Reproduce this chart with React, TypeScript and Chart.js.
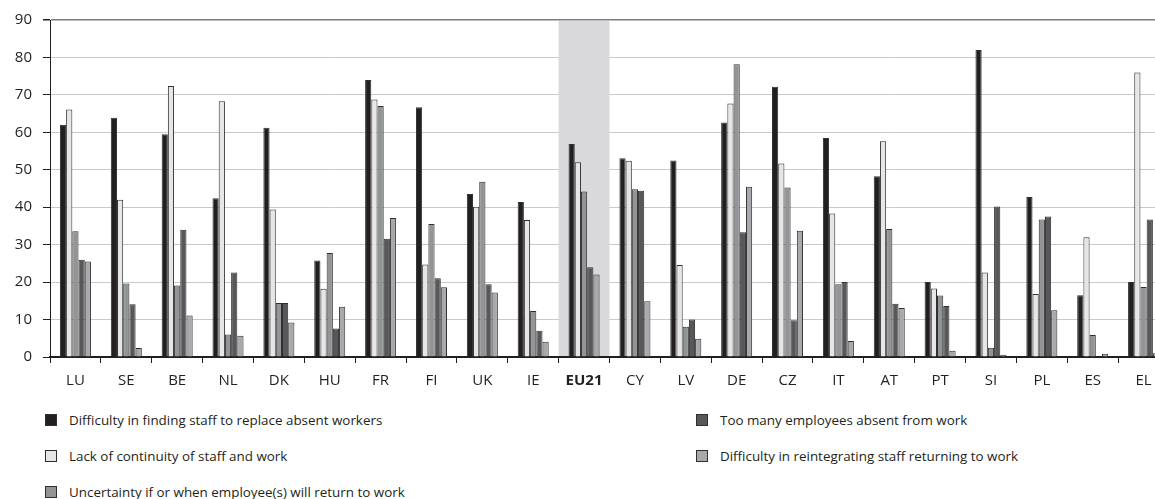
import React, { useEffect, useRef } from "react";
import { Chart, registerables } from "chart.js";

Chart.register(...registerables);

const categories = ["LU", "SE", "BE", "NL", "DK", "HU", "FR", "FI", "UK", "IE", "EU21", "CY", "LV", "DE", "CZ", "IT", "AT", "PT", "SI", "PL", "ES", "EL"];
const highlightIndex = 10;

const difficultyReplace = [62, 63.9, 59.5, 42.4, 61.2, 25.8, 74, 66.7, 43.5, 41.4, 56.9, 53.1, 52.5, 62.6, 72.2, 58.5, 48.3, 20, 82, 42.7, 16.5, 20];
const lackContinuity = [66.1, 42, 72.4, 68.3, 39.4, 18.2, 68.8, 24.7, 40.1, 36.6, 52, 52.4, 24.6, 67.7, 51.7, 38.3, 57.6, 18.3, 22.6, 16.8, 32, 76];
const uncertaintyReturn = [33.6, 19.6, 19.1, 6, 14.4, 27.8, 67, 35.5, 46.8, 12.3, 44.2, 44.8, 8.1, 78.2, 45.3, 19.4, 34.2, 16.4, 2.5, 36.7, 5.9, 18.7];
const tooManyAbsent = [26, 14.1, 34, 22.6, 14.4, 7.6, 31.6, 21, 19.4, 7, 24, 44.4, 10, 33.3, 9.8, 20, 14.2, 13.6, 40.2, 37.5, 0, 36.7];
const reintegrating = [25.5, 2.4, 11.1, 5.7, 9.2, 13.4, 37.1, 18.6, 17.2, 4.1, 22, 14.9, 4.9, 45.5, 33.7, 4.3, 13.1, 1.7, 0.6, 12.5, 0.9, 1];

const seriesLabels = [
  "Difficulty in finding staff to replace absent workers",
  "Lack of continuity of staff and work",
  "Uncertainty if or when employee(s) will return to work",
  "Too many employees absent from work",
  "Difficulty in reintegrating staff returning to work",
];
const seriesColors = ["#231f20", "#e6e6e7", "#929497", "#58585a", "#a7a9ac"];
const seriesData = [difficultyReplace, lackContinuity, uncertaintyReturn, tooManyAbsent, reintegrating];

const FONT = "'Open Sans', 'Noto Sans', sans-serif";
const TEXT = "#231f20";

const highlightPlugin = {
  id: "highlightBand",
  beforeDatasetsDraw(chart: any) {
    const { ctx, chartArea, scales } = chart;
    const x = scales.x;
    const w = (chartArea.right - chartArea.left) / categories.length;
    const cx = x.getPixelForValue(highlightIndex);
    ctx.save();
    ctx.fillStyle = "#d9d9db";
    ctx.fillRect(cx - w / 2, chartArea.top + 1, w, chartArea.bottom - chartArea.top - 2);
    ctx.restore();
  },
};

export default function App() {
  const ref = useRef<HTMLCanvasElement | null>(null);
  useEffect(() => {
    if (!ref.current) return;
    const chart = new Chart(ref.current, {
      type: "bar",
      data: {
        labels: categories,
        datasets: seriesData.map((d, i) => ({
          label: seriesLabels[i],
          data: d,
          backgroundColor: seriesColors[i],
          borderColor: "#2f2f2f",
          borderWidth: 1,
          borderSkipped: "bottom",
          categoryPercentage: 0.61,
          barPercentage: 1.0,
        })),
      },
      options: {
        responsive: false,
        animation: false,
        layout: { padding: { top: 20, right: 3, left: 0, bottom: 0 } },
        plugins: { legend: { display: false }, tooltip: { enabled: false } },
        scales: {
          x: {
            afterFit: (s: any) => {
              s.height = 43;
            },
            grid: {
              offset: true,
              drawOnChartArea: false,
              drawTicks: true,
              tickLength: 6,
              tickColor: "#231f20",
            },
            border: { color: "#231f20", width: 2 },
            ticks: {
              color: TEXT,
              padding: 9,
              font: (c: any) => ({
                family: FONT,
                size: 15,
                weight: c.index === highlightIndex ? "bold" : "normal",
              }),
            },
          },
          y: {
            min: 0,
            max: 90,
            afterFit: (s: any) => {
              s.width = 50;
            },
            grid: {
              color: (c: any) => (c.tick && c.tick.value === 90 ? "#7d7d7d" : "#cacaca"),
              lineWidth: (c: any) => (c.tick && c.tick.value === 90 ? 1.5 : 1),
              tickLength: 7,
              tickColor: "#231f20",
            },
            border: { color: "#231f20", width: 1 },
            ticks: {
              stepSize: 10,
              color: TEXT,
              padding: 11,
              font: { family: FONT, size: 15 },
            },
          },
        },
      },
      plugins: [highlightPlugin],
    });
    return () => chart.destroy();
  }, []);

  const legendPos = [
    { left: 45, top: 420 },
    { left: 45, top: 456 },
    { left: 45, top: 492 },
    { left: 696, top: 420 },
    { left: 696, top: 456 },
  ];

  return (
    <div style={{ position: "absolute", left: 0, top: 0, width: 1155, height: 499, overflow: "hidden", background: "#fff" }}>
      <canvas ref={ref} width={1172} height={400} style={{ position: "absolute", left: 0, top: 0, width: 1172, height: 400 }} />
      {seriesLabels.map((lab, i) => (
        <div
          key={lab}
          style={{
            position: "absolute",
            left: legendPos[i].left,
            top: legendPos[i].top - 10,
            height: 20,
            display: "flex",
            alignItems: "center",
            whiteSpace: "nowrap",
            fontFamily: FONT,
            fontSize: 13.4,
            color: TEXT,
          }}
        >
          <span
            style={{
              display: "inline-block",
              width: 10,
              height: 10,
              background: seriesColors[i],
              border: "1px solid #2f2f2f",
              marginRight: 12,
            }}
          />
          <span>{lab}</span>
        </div>
      ))}
    </div>
  );
}
